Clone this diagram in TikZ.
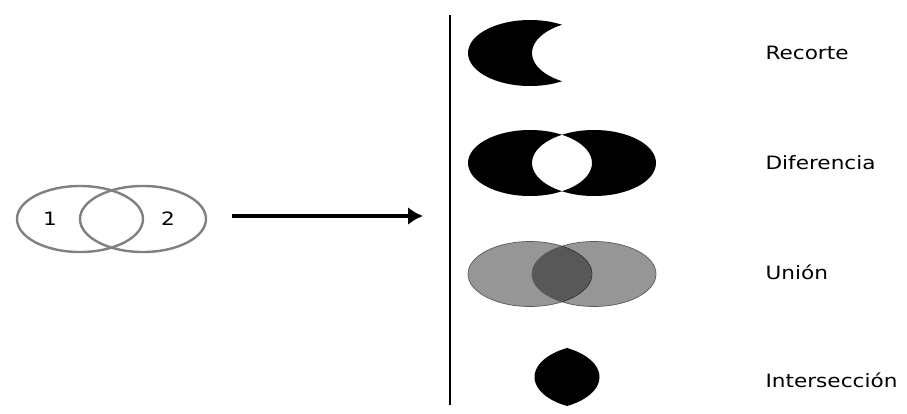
\documentclass[tikz,border=0pt]{standalone}
\usepackage{fontspec}
\usepackage{graphicx}
\setmainfont{DejaVu Sans}
\usetikzlibrary{arrows.meta}
\newcommand{\widetxt}[1]{\scalebox{1.2}[1.02]{#1}}
\tikzset{
  label text/.style={font=\fontsize{18}{20}\selectfont, anchor=west},
  num text/.style={font=\fontsize{18}{20}\selectfont},
  ring/.style={draw=black!50, line width=2.4pt}
}
\begin{document}
\begin{tikzpicture}[x=1pt, y=-1pt]
  \useasboundingbox (0,0) rectangle (907,413);

  % Two overlapping sets (left)
  \coordinate (S1) at (80,219);
  \coordinate (S2) at (143,219);
  \draw[ring] (S1) ellipse [x radius=63pt, y radius=33pt];
  \draw[ring] (S2) ellipse [x radius=63pt, y radius=33pt];
  \node[num text] (n1) at (50,219) {\widetxt{1}};
  \node[num text] (n2) at (168,219) {\widetxt{2}};

  % Arrow
  \coordinate (arrA) at (232,216);
  \coordinate (arrB) at (423,216);
  \draw[line width=3.4pt, -{Latex[length=15pt, width=18pt]}] (arrA) -- (arrB);

  % Separator
  \coordinate (top) at (450,15);
  \coordinate (bot) at (450,405);
  \draw[line width=2.2pt] (top) -- (bot);

  % Recorte
  \coordinate (R1) at (530,53);
  \coordinate (R2) at (594,53);
  \begin{scope}[even odd rule]
    \clip (460,10) rectangle (700,100)
          (R2) ellipse [x radius=62pt, y radius=33pt];
    \fill (R1) ellipse [x radius=62pt, y radius=33pt];
  \end{scope}

  % Diferencia
  \coordinate (D1) at (530,163);
  \coordinate (D2) at (594,163);
  \fill[even odd rule] (D1) ellipse [x radius=62pt, y radius=33pt]
                       (D2) ellipse [x radius=62pt, y radius=33pt];

  % Union
  \coordinate (U1) at (530,274);
  \coordinate (U2) at (594,274);
  \filldraw[fill=black, fill opacity=0.41, draw=black!65, line width=0.7pt]
    (U1) ellipse [x radius=62pt, y radius=32.5pt];
  \filldraw[fill=black, fill opacity=0.41, draw=black!65, line width=0.7pt]
    (U2) ellipse [x radius=62pt, y radius=32.5pt];

  % Interseccion
  \coordinate (I1) at (537.5,377);
  \coordinate (I2) at (596.5,377);
  \begin{scope}
    \clip (I1) ellipse [x radius=62pt, y radius=33pt];
    \fill (I2) ellipse [x radius=62pt, y radius=33pt];
  \end{scope}

  % Labels
  \node[label text] (lRec) at (762,53) {\widetxt{Recorte}};
  \node[label text] (lDif) at (762,163) {\widetxt{Diferencia}};
  \node[label text] (lUni) at (762,272) {\widetxt{Unión}};
  \node[label text] (lInt) at (762,380) {\widetxt{Intersección}};
\end{tikzpicture}
\end{document}
